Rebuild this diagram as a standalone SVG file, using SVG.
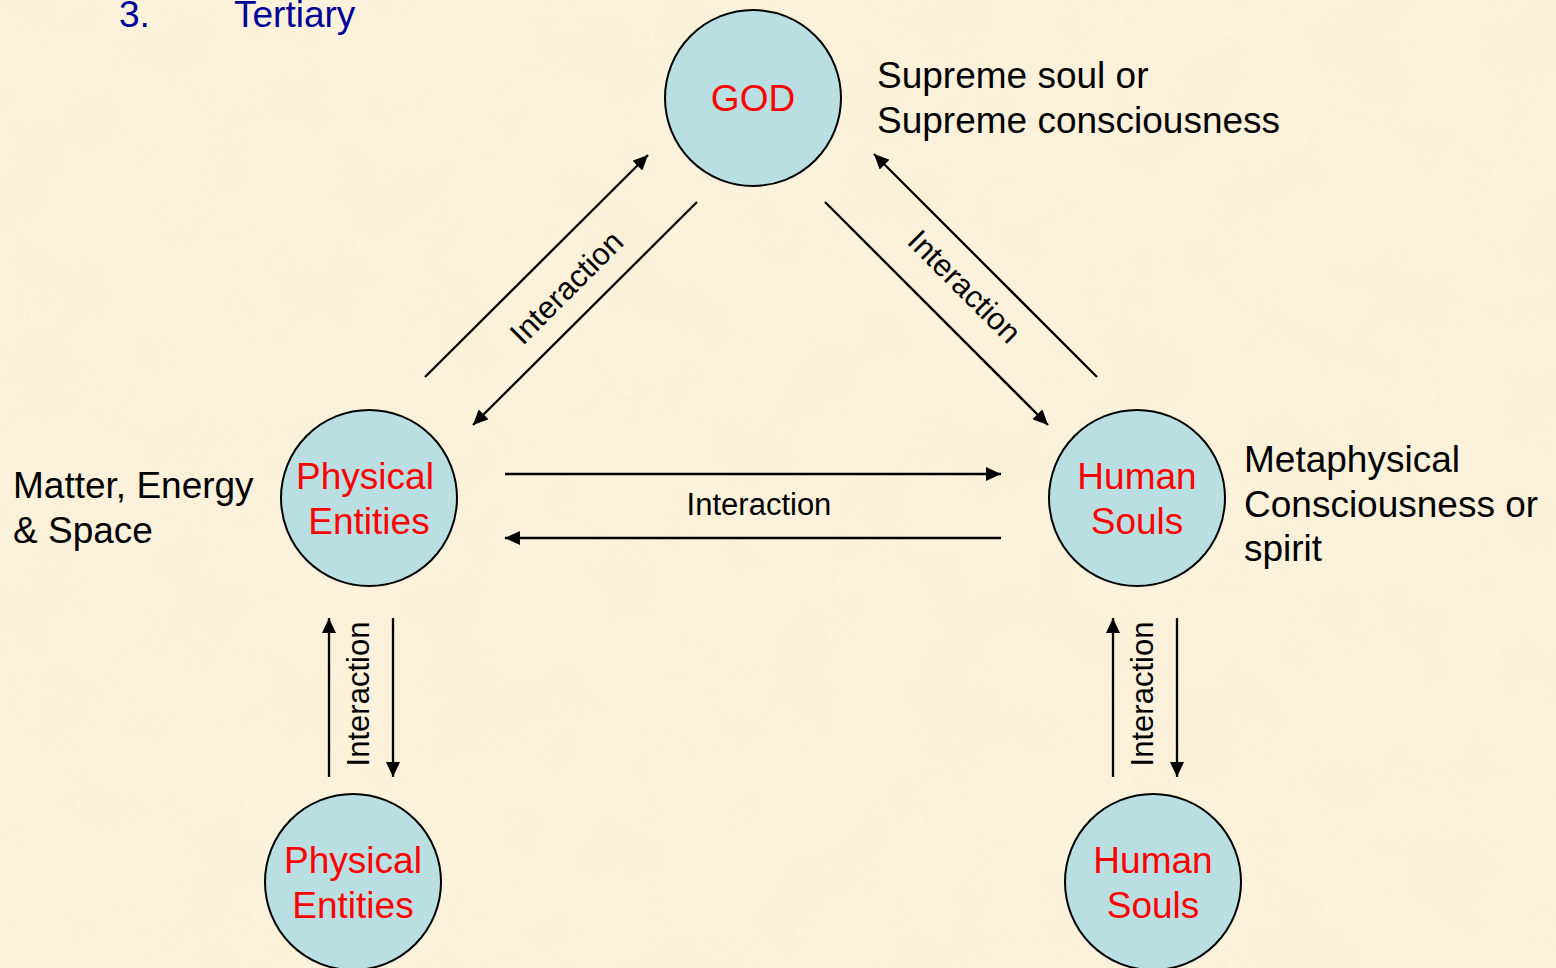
<svg xmlns="http://www.w3.org/2000/svg" width="1556" height="968" viewBox="0 0 1556 968">
<style>
  .bg { fill: #FCF2DB; }
  .node { fill: #B9DFE3; stroke: #000; stroke-width: 2; }
  .nt { font-family: "Liberation Sans", Arial, sans-serif; font-size: 37px; fill: #FF0000; text-anchor: middle; }
  .lab { font-family: "Liberation Sans", Arial, sans-serif; font-size: 37px; fill: #000; }
  .ct { font-family: "Liberation Sans", Arial, sans-serif; font-size: 31px; fill: #000; text-anchor: middle; }
  .head { font-family: "Liberation Sans", Arial, sans-serif; font-size: 37px; fill: #000099; }
  .conn { stroke: #000; stroke-width: 2.3; fill: none; marker-end: url(#arrow); }
</style>
<defs>
  <marker id="arrow" markerUnits="userSpaceOnUse" markerWidth="16" markerHeight="14" refX="15" refY="7" orient="auto">
    <path d="M0,0 L15,7 L0,14 z" fill="#000"/>
  </marker>
  <filter id="tex" x="0" y="0" width="100%" height="100%">
    <feTurbulence type="fractalNoise" baseFrequency="0.012" numOctaves="3" seed="7"/>
    <feColorMatrix type="matrix" values="0 0 0 0 0.88  0 0 0 0 0.82  0 0 0 0 0.60  0.9 0 0 0 -0.38"/>
  </filter>
</defs>
<rect class="bg" x="0" y="0" width="1556" height="968"/>
<rect x="0" y="0" width="1556" height="968" filter="url(#tex)" opacity="0.4"/>

<g id="heading">
  <text class="head" x="119" y="27">3.</text>
  <text class="head" x="234" y="27">Tertiary</text>
</g>

<g id="connectors">
  <line class="conn" x1="425" y1="377" x2="648" y2="155"/>
  <line class="conn" x1="697" y1="202" x2="473" y2="425"/>
  <line class="conn" x1="1097" y1="377" x2="874" y2="154"/>
  <line class="conn" x1="825" y1="202" x2="1048" y2="425"/>
  <line class="conn" x1="505" y1="474" x2="1001" y2="474"/>
  <line class="conn" x1="1001" y1="538" x2="505" y2="538"/>
  <line class="conn" x1="329" y1="777" x2="329" y2="618"/>
  <line class="conn" x1="393" y1="618" x2="393" y2="777"/>
  <line class="conn" x1="1113" y1="777" x2="1113" y2="618"/>
  <line class="conn" x1="1177" y1="618" x2="1177" y2="777"/>
  <text class="ct" transform="translate(574,295) rotate(-45)">Interaction</text>
  <text class="ct" transform="translate(957,294) rotate(45)">Interaction</text>
  <text class="ct" x="759" y="515">Interaction</text>
  <text class="ct" transform="translate(369,694) rotate(-90)">Interaction</text>
  <text class="ct" transform="translate(1153,694) rotate(-90)">Interaction</text>
</g>

<g id="god">
  <circle class="node" cx="753" cy="98" r="88"/>
  <text class="nt" x="753" y="111">GOD</text>
</g>
<g id="physical-entities">
  <circle class="node" cx="369" cy="498" r="88"/>
  <text class="nt" x="365" y="489">Physical</text>
  <text class="nt" x="369" y="534">Entities</text>
</g>
<g id="human-souls">
  <circle class="node" cx="1137" cy="498" r="88"/>
  <text class="nt" x="1137" y="489">Human</text>
  <text class="nt" x="1137" y="534">Souls</text>
</g>
<g id="physical-entities-2">
  <circle class="node" cx="353" cy="882" r="88"/>
  <text class="nt" x="353" y="873">Physical</text>
  <text class="nt" x="353" y="918">Entities</text>
</g>
<g id="human-souls-2">
  <circle class="node" cx="1153" cy="882" r="88"/>
  <text class="nt" x="1153" y="873">Human</text>
  <text class="nt" x="1153" y="918">Souls</text>
</g>

<g id="labels">
  <text class="lab" x="877" y="88">Supreme soul or</text>
  <text class="lab" x="877" y="133">Supreme consciousness</text>
  <text class="lab" x="13" y="498">Matter, Energy</text>
  <text class="lab" x="13" y="543">&amp; Space</text>
  <text class="lab" x="1244" y="472">Metaphysical</text>
  <text class="lab" x="1244" y="517">Consciousness or</text>
  <text class="lab" x="1244" y="561">spirit</text>
</g>
</svg>
